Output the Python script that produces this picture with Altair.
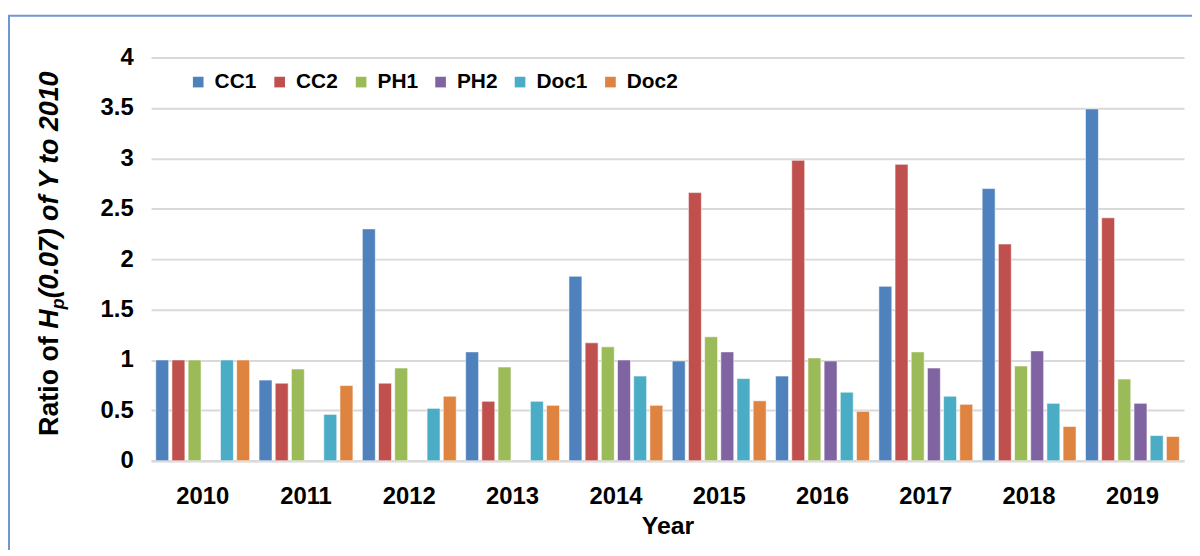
import altair as alt
import pandas as pd

years = ["2010", "2011", "2012", "2013", "2014", "2015", "2016", "2017", "2018", "2019"]
series = ["CC1", "CC2", "PH1", "PH2", "Doc1", "Doc2"]
colors = ["#4F81BD", "#C0504D", "#9BBB59", "#8064A2", "#4BACC6", "#DE8340"]

CC1 = [1.00, 0.80, 2.30, 1.08, 1.83, 0.99, 0.84, 1.73, 2.70, 3.49]
CC2 = [1.00, 0.77, 0.77, 0.59, 1.17, 2.66, 2.98, 2.94, 2.15, 2.41]
PH1 = [1.00, 0.91, 0.92, 0.93, 1.13, 1.23, 1.02, 1.08, 0.94, 0.81]
PH2 = [None, None, None, None, 1.00, 1.08, 0.99, 0.92, 1.09, 0.57]
Doc1 = [1.00, 0.46, 0.52, 0.59, 0.84, 0.815, 0.68, 0.64, 0.57, 0.25]
Doc2 = [1.00, 0.746, 0.64, 0.55, 0.55, 0.595, 0.49, 0.56, 0.34, 0.24]

y_ticks = [0, 0.5, 1, 1.5, 2, 2.5, 3, 3.5, 4]

rows = []
for name, vals in zip(series, [CC1, CC2, PH1, PH2, Doc1, Doc2]):
    for yr, v in zip(years, vals):
        if v is not None:
            rows.append({"Year": yr, "Series": name, "Value": v})
df = pd.DataFrame(rows)

FONT = "Liberation Sans"

bars = alt.Chart(df).mark_bar(stroke="white", strokeWidth=0.8, strokeOpacity=0.7).encode(
    x=alt.X("Year:N", sort=years,
            scale=alt.Scale(paddingInner=0.06, paddingOuter=0.03),
            axis=alt.Axis(title="Year", labelAngle=0, labelFont=FONT, labelFontSize=24,
                          labelFontWeight="bold", labelColor="black", labelPadding=24,
                          ticks=False, domainColor="#D9D9D9", domainWidth=2.5,
                          titleFont=FONT, titleFontSize=25, titleFontWeight="bold",
                          titleColor="black", titlePadding=5)),
    xOffset=alt.XOffset("Series:N", sort=series,
                        scale=alt.Scale(domain=series, paddingInner=0.2, paddingOuter=0.1)),
    y=alt.Y("Value:Q",
            scale=alt.Scale(domain=[0, 4], nice=False),
            axis=alt.Axis(title=None, values=y_ticks, format=".1~f", labelFont=FONT,
                          labelFontSize=24, labelFontWeight="bold", labelColor="black",
                          labelPadding=18, ticks=False, domain=False,
                          gridColor="#D9D9D9", gridWidth=2)),
    color=alt.Color("Series:N", sort=series,
                    scale=alt.Scale(domain=series, range=colors),
                    legend=alt.Legend(title=None, orient="none", legendX=37, legendY=14,
                                      direction="horizontal", columns=6,
                                      symbolType="square", symbolSize=115,
                                      symbolStrokeWidth=0, labelFont=FONT,
                                      labelFontSize=21, labelFontWeight="bold",
                                      labelColor="black", labelOffset=6,
                                      columnPadding=12)),
)

dummy = alt.Data(values=[{}])

def tpart(text, y, x, size, italic):
    return alt.Chart(dummy).mark_text(
        text=text, angle=270, align="left", baseline="alphabetic",
        font=FONT, fontSize=size, fontWeight="bold",
        fontStyle="italic" if italic else "normal", color="black"
    ).encode(x=alt.value(x), y=alt.value(y))

t1 = tpart("Ratio of ", 381, -94, 27, False)
t2 = tpart("H", 273, -94, 27, True)
t3 = tpart("p", 253.5, -88, 18, True)
t4 = tpart("(0.07) of Y to 2010", 242.5, -94, 27, True)

border = alt.Chart(dummy).mark_rect(fillOpacity=0, stroke="#6F96CF", strokeWidth=2).encode(
    x=alt.value(-143), x2=alt.value(1300), y=alt.value(-42), y2=alt.value(700)
)

chart = alt.layer(border, bars, t1, t2, t3, t4).properties(
    width=1040, height=406,
    autosize=alt.AutoSizeParams(type="none"),
    padding={"left": 144, "top": 48, "right": 8, "bottom": 88},
    background="white",
).configure_view(stroke=None)

chart.save("out.html", embed_options={"renderer": "svg", "actions": False})
